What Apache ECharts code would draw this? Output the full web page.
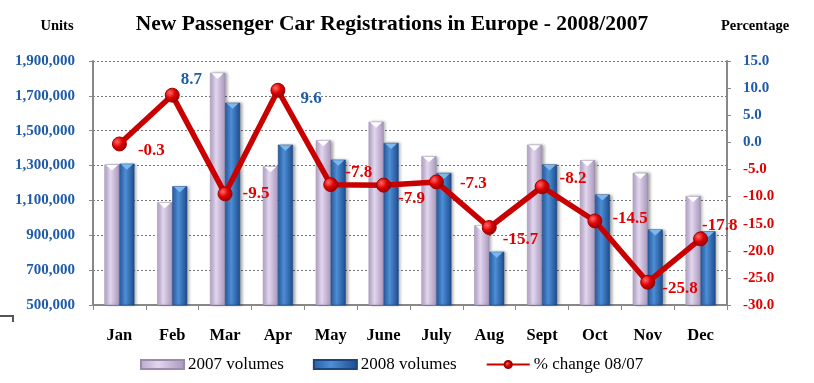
<!DOCTYPE html>
<html><head><meta charset="utf-8">
<script src="https://cdn.jsdelivr.net/npm/echarts@6/dist/echarts.min.js"></script>
<style>html,body{margin:0;padding:0;background:#fff}#c{width:814px;height:383px}</style>
</head><body><div id="c"></div>
<script>
const months = ['Jan','Feb','Mar','Apr','May','June','July','Aug','Sept','Oct','Nov','Dec'];
const vol2007 = [1306000,1089000,1832000,1296000,1445000,1551000,1353000,957000,1420000,1330000,1258000,1124000];
const vol2008 = [1311000,1181000,1660000,1420000,1334000,1430000,1258000,805000,1306000,1134000,933000,923000];
const pctChange = [-0.3,8.7,-9.5,9.6,-7.8,-7.9,-7.3,-15.7,-8.2,-14.5,-25.8,-17.8];
const labelOffsets = [[6,7],[-4,-16],[5,0],[10,8],[2,-12],[2,13],[11,2],[1,12],[5,-8],[5,-2],[2,6],[-11,-13]];

const serif = '"Liberation Serif","Times New Roman",serif';
const blue = '#1f5ca8', red = '#e00000';
function fmtThousands(v){return String(v).replace(/\B(?=(\d{3})+(?!\d))/g, ',');}

const chart = echarts.init(document.getElementById('c'));
const grad = (c1,c2,c3) => new echarts.graphic.LinearGradient(0,0,1,0,[
  {offset:0,color:c1},{offset:0.4,color:c2},{offset:1,color:c3}]);
const BAR_W = 15;

function renderTops(params, api){
  const i = api.value(0);
  const tri = (val, dx, color) => {
    const p = api.coord([i, val]);
    const x = p[0] + dx, y = p[1];
    return {type:'polygon',shape:{points:[[x-6,y+0.5],[x+6,y+0.5],[x,y+6]]},style:{fill:color},silent:true};
  };
  return {type:'group',children:[
    tri(api.value(1), -BAR_W/2, '#ffffff'),
    tri(api.value(2), BAR_W/2, '#7ab8ee')
  ]};
}

chart.setOption({
  animation:false,
  textStyle:{fontFamily:serif},
  title:[
    {text:'New Passenger Car Registrations in Europe - 2008/2007',left:392,top:13,padding:0,textAlign:'center',
     textStyle:{fontFamily:serif,fontSize:21.5,fontWeight:'bold',color:'#000'}},
    {text:'Units',left:57,top:19,padding:0,textAlign:'center',textStyle:{fontFamily:serif,fontSize:14.5,fontWeight:'bold',color:'#000'}},
    {text:'Percentage',left:755,top:19,padding:0,textAlign:'center',textStyle:{fontFamily:serif,fontSize:14.5,fontWeight:'bold',color:'#000'}}
  ],
  grid:{left:93,right:87,top:61,bottom:78,containLabel:false},
  legend:{
    top:351,left:135,itemGap:29,itemWidth:43,itemHeight:9,
    textStyle:{fontFamily:serif,fontSize:17,color:'#000',padding:[0,0,0,-1]},
    data:[
      {name:'2007 volumes',icon:'rect'},
      {name:'2008 volumes',icon:'rect'},
      {name:'% change 08/07'}
    ]
  },
  xAxis:{
    type:'category',data:months,
    axisLine:{onZero:false,lineStyle:{color:'#888',width:2}},
    axisTick:{show:true,length:5,lineStyle:{color:'#888'}},
    axisLabel:{fontFamily:serif,fontSize:16.5,fontWeight:'bold',color:'#000',margin:22}
  },
  yAxis:[
    {type:'value',min:500000,max:1900000,interval:200000,position:'left',
     axisLine:{show:true,lineStyle:{color:'#888',width:2}},
     axisTick:{show:true,length:4,lineStyle:{color:'#888'}},
     axisLabel:{fontFamily:serif,fontSize:15,fontWeight:'bold',color:blue,margin:18,formatter:v=>fmtThousands(v)},
     splitLine:{show:true,lineStyle:{color:'#777',type:[2,2],width:1}}},
    {type:'value',min:-30,max:15,interval:5,position:'right',
     axisLine:{show:true,lineStyle:{color:'#888',width:2}},
     axisTick:{show:true,length:4,lineStyle:{color:'#888'}},
     axisLabel:{fontFamily:serif,fontSize:15,fontWeight:'bold',margin:16,
       formatter:v=>v.toFixed(1),color:v=>(v>=0?blue:red)},
     splitLine:{show:false}}
  ],
  series:[
    {name:'2007 volumes',type:'bar',data:vol2007,barWidth:BAR_W,barGap:'0%',
     itemStyle:{color:grad('#b9a8cc','#e2d6ee','#a897bb'),borderColor:'#9a8aae',borderWidth:0.5,
       shadowBlur:3,shadowOffsetX:2,shadowColor:'rgba(0,0,0,0.35)'}},
    {name:'2008 volumes',type:'bar',data:vol2008,barWidth:BAR_W,
     itemStyle:{color:grad('#2a5fa5','#4d8ed6','#1d4c8c'),borderColor:'#1b4580',borderWidth:0.5,
       shadowBlur:3,shadowOffsetX:2,shadowColor:'rgba(0,0,0,0.35)'}},
    {name:'tops',type:'custom',renderItem:renderTops,
     data:months.map((m,i)=>[i,vol2007[i],vol2008[i]]),z:3,silent:true,tooltip:{show:false}},
    {name:'% change 08/07',type:'line',yAxisIndex:1,data:pctChange.map((v,i)=>({value:v,
       label:{offset:labelOffsets[i],color:v>=0?blue:red}})),
     lineStyle:{color:'#c80000',width:5.5},
     symbol:'circle',symbolSize:14,
     itemStyle:{color:new echarts.graphic.RadialGradient(0.35,0.35,0.7,[{offset:0,color:'#ff6a6a'},{offset:0.5,color:'#e00000'},{offset:1,color:'#8a0000'}]),borderColor:'#a00000',borderWidth:1},
     label:{show:true,position:'right',distance:5,fontFamily:serif,fontSize:17,fontWeight:'bold',
       formatter:p=>p.value.toFixed(1)},
     z:5}
  ],
  graphic:[{type:'polyline',shape:{points:[[0,316],[13,316],[13,322]]},style:{stroke:'#555',lineWidth:2,fill:null}}]
});
</script></body></html>
